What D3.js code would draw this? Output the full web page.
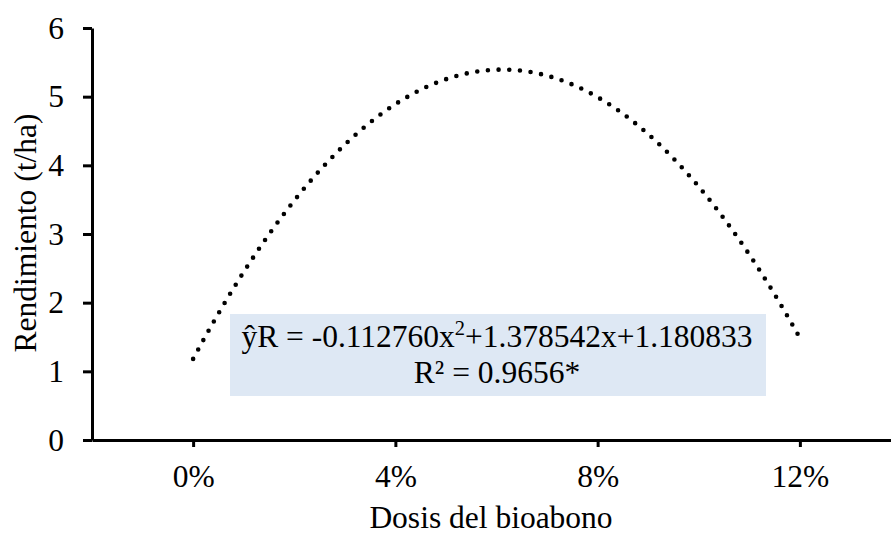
<!DOCTYPE html>
<html>
<head>
<meta charset="utf-8">
<script src="https://cdn.jsdelivr.net/npm/d3@7"></script>
<style>
  html, body { margin: 0; padding: 0; background: #fff; }
  svg { display: block; }
  text { font-family: "Liberation Serif", "Times New Roman", serif; fill: #000; }
</style>
</head>
<body>
<svg id="chart" width="891" height="534"></svg>
<script>
// Quadratic fit of yield against biofertilizer dose: y = a·x² + b·x + c
const fitCoefficients = [-0.112760, 1.378542, 1.180833];
const rSquared = "0.9656*";
const fitRange = [0, 12];          // doses (%) covered by the fitted curve
const xTicks = [0, 4, 8, 12];
const yTicks = [0, 1, 2, 3, 4, 5, 6];
const xTitle = "Dosis del bioabono";
const yTitle = "Rendimiento (t/ha)";

const svg = d3.select("#chart");
const fontSize = 31.5;
const serif = "Liberation Serif, Times New Roman, serif";

const x = d3.scaleLinear().domain([-2, 14]).range([92, 901]);
const y = d3.scaleLinear().domain([0, 6]).range([440, 28]);

const fit = v => fitCoefficients[0] * v * v + fitCoefficients[1] * v + fitCoefficients[2];

// equation box
const box = svg.append("g");
box.append("rect")
  .attr("x", 230).attr("y", 314)
  .attr("width", 536).attr("height", 82)
  .attr("fill", "#dee8f4");

const eq = box.append("text")
  .attr("x", 497).attr("y", 347)
  .attr("text-anchor", "middle")
  .attr("font-size", fontSize);
eq.append("tspan").text("ŷR = " + fitCoefficients[0].toFixed(6) + "x");
eq.append("tspan").attr("font-size", fontSize * 0.65).attr("dy", -12).text("2");
eq.append("tspan").attr("dy", 12)
  .text("+" + fitCoefficients[1].toFixed(6) + "x+" + fitCoefficients[2].toFixed(6));

box.append("text")
  .attr("x", 497).attr("y", 383)
  .attr("text-anchor", "middle")
  .attr("font-size", fontSize)
  .text("R² = " + rSquared);

// dotted trend curve
const samples = d3.range(0, 201).map(i => fitRange[0] + (fitRange[1] - fitRange[0]) * i / 200);
svg.append("path")
  .datum(samples)
  .attr("fill", "none")
  .attr("stroke", "#000")
  .attr("stroke-width", 4.6)
  .attr("stroke-linecap", "round")
  .attr("stroke-dasharray", "0 10.7")
  .attr("d", d3.line().x(d => x(d)).y(d => y(fit(d))));

// y axis
const yAxis = svg.append("g")
  .attr("transform", `translate(${x(-2)},0)`)
  .call(d3.axisLeft(y).tickValues(yTicks).tickSize(9).tickPadding(19)
        .tickSizeOuter(0).tickFormat(d3.format("d")));
yAxis.select(".domain").attr("stroke-width", 3);
yAxis.selectAll(".tick line").attr("stroke-width", 3);
yAxis.selectAll(".tick text").attr("font-size", fontSize).attr("font-family", serif);

// x axis
const xAxis = svg.append("g")
  .attr("transform", `translate(0,${y(0)})`)
  .call(d3.axisBottom(x).tickValues(xTicks).tickSize(7).tickPadding(18)
        .tickSizeOuter(0).tickFormat(d => d + "%"));
xAxis.select(".domain").attr("stroke-width", 3);
xAxis.selectAll(".tick line").attr("stroke-width", 3);
xAxis.selectAll(".tick text").attr("font-size", fontSize).attr("font-family", serif);

// axis titles
svg.append("text")
  .attr("x", 491).attr("y", 528)
  .attr("text-anchor", "middle")
  .attr("font-size", fontSize)
  .text(xTitle);

svg.append("text")
  .attr("transform", "translate(36,233) rotate(-90)")
  .attr("text-anchor", "middle")
  .attr("font-size", fontSize)
  .text(yTitle);
</script>
</body>
</html>
